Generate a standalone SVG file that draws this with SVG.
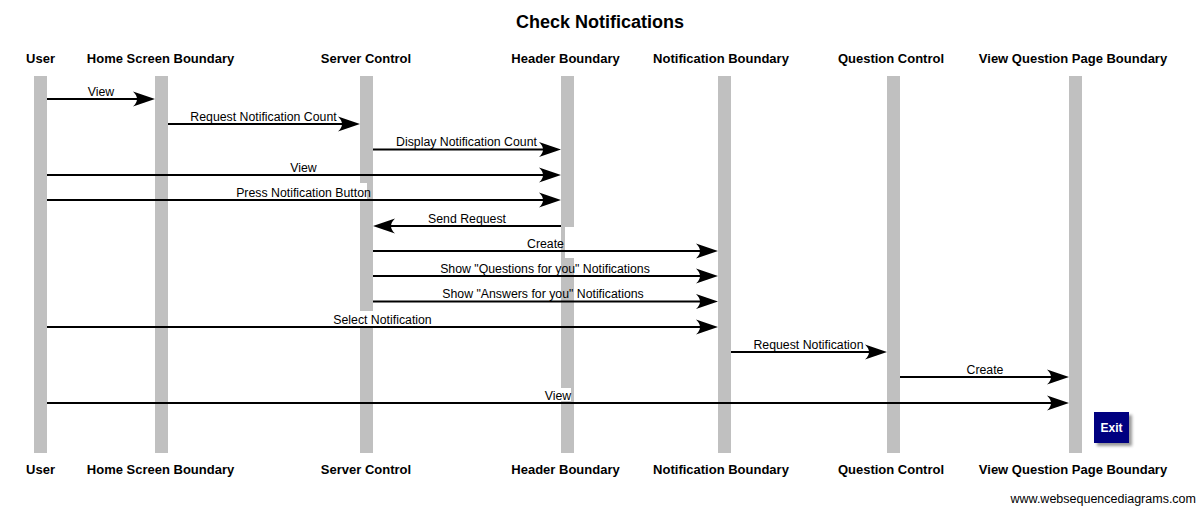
<svg xmlns="http://www.w3.org/2000/svg" width="1198" height="507" viewBox="0 0 1198 507">
<style>
.bg{fill:#ffffff}
.title{font-family:"Liberation Sans",Arial,sans-serif;font-size:18px;font-weight:bold;fill:#000;text-anchor:middle}
.pname{font-family:"Liberation Sans",Arial,sans-serif;font-size:13px;font-weight:bold;fill:#000;text-anchor:middle}
.life{fill:#c0c0c0}
.gap{fill:#ffffff}
.msg{stroke:#000;stroke-width:2;fill:none;marker-end:url(#ah)}
.lbl{font-family:"Liberation Sans",Arial,sans-serif;font-size:12.3px;fill:#000;text-anchor:middle}
.foot{font-family:"Liberation Sans",Arial,sans-serif;font-size:12.5px;fill:#000;text-anchor:end}
.exit{fill:#000080}
.exittxt{font-family:"Liberation Sans",Arial,sans-serif;font-size:12px;font-weight:bold;fill:#fff;text-anchor:middle}
</style>
<defs>
<marker id="ah" viewBox="-22 -8 22 16" markerWidth="22" markerHeight="16" refX="-8" refY="0" orient="auto" markerUnits="userSpaceOnUse">
<path d="M0,0 L-22,-7.5 Q-14,0 -22,7.5 Z" fill="#000"/>
</marker>
<filter id="sh" x="-30%" y="-30%" width="170%" height="170%">
<feGaussianBlur stdDeviation="1.5"/>
</filter>
</defs>
<rect class="bg" x="0" y="0" width="1198" height="507"/>
<text class="title" x="600" y="28">Check Notifications</text>

<g id="user">
<text class="pname" x="40.5" y="63">User</text>
<rect class="life" x="34" y="76" width="13" height="377"/>
<text class="pname" x="40.5" y="474">User</text>
</g>
<g id="home-screen-boundary">
<text class="pname" x="160.5" y="63">Home Screen Boundary</text>
<rect class="life" x="155" y="76" width="13" height="377"/>
<text class="pname" x="160.5" y="474">Home Screen Boundary</text>
</g>
<g id="server-control">
<text class="pname" x="366" y="63">Server Control</text>
<rect class="life" x="360" y="76" width="13" height="377"/>
<text class="pname" x="366" y="474">Server Control</text>
</g>
<g id="header-boundary">
<text class="pname" x="565.5" y="63">Header Boundary</text>
<rect class="life" x="561" y="76" width="13" height="377"/>
<text class="pname" x="565.5" y="474">Header Boundary</text>
</g>
<g id="notification-boundary">
<text class="pname" x="721" y="63">Notification Boundary</text>
<rect class="life" x="718" y="76" width="13" height="377"/>
<text class="pname" x="721" y="474">Notification Boundary</text>
</g>
<g id="question-control">
<text class="pname" x="891" y="63">Question Control</text>
<rect class="life" x="887" y="76" width="13" height="377"/>
<text class="pname" x="891" y="474">Question Control</text>
</g>
<g id="view-question-page-boundary">
<text class="pname" x="1073" y="63">View Question Page Boundary</text>
<rect class="life" x="1069" y="76" width="13" height="377"/>
<text class="pname" x="1073" y="474">View Question Page Boundary</text>
</g>

<g id="gaps">
<rect class="gap" x="360" y="183" width="7" height="16"/>
<rect class="gap" x="565" y="227" width="9" height="31"/>
<rect class="gap" x="360" y="311" width="13" height="15"/>
<rect class="gap" x="561" y="388" width="10" height="13"/>
</g>

<g id="connectors">
<line class="msg" x1="47" y1="99" x2="147" y2="99"/>
<text class="lbl" x="101" y="95.5">View</text>
<line class="msg" x1="168" y1="124" x2="352" y2="124"/>
<text class="lbl" x="263.5" y="120.5">Request Notification Count</text>
<line class="msg" x1="373" y1="149.5" x2="553" y2="149.5"/>
<text class="lbl" x="466.5" y="146">Display Notification Count</text>
<line class="msg" x1="47" y1="175" x2="553" y2="175"/>
<text class="lbl" x="303.5" y="171.5">View</text>
<line class="msg" x1="47" y1="200" x2="553" y2="200"/>
<text class="lbl" x="303.5" y="196.5">Press Notification Button</text>
<line class="msg" x1="561" y1="226" x2="381" y2="226"/>
<text class="lbl" x="467" y="222.5">Send Request</text>
<line class="msg" x1="373" y1="251" x2="710" y2="251"/>
<text class="lbl" x="545.5" y="247.5">Create</text>
<line class="msg" x1="373" y1="276" x2="710" y2="276"/>
<text class="lbl" x="545" y="272.5">Show "Questions for you" Notifications</text>
<line class="msg" x1="373" y1="301.5" x2="710" y2="301.5"/>
<text class="lbl" x="543" y="298">Show "Answers for you" Notifications</text>
<line class="msg" x1="47" y1="327" x2="710" y2="327"/>
<text class="lbl" x="382.5" y="323.5">Select Notification</text>
<line class="msg" x1="731" y1="352" x2="879" y2="352"/>
<text class="lbl" x="808.5" y="348.5">Request Notification</text>
<line class="msg" x1="900" y1="377" x2="1061" y2="377"/>
<text class="lbl" x="985" y="373.5">Create</text>
<line class="msg" x1="47" y1="403" x2="1061" y2="403"/>
<text class="lbl" x="558" y="399.5">View</text>
</g>

<g id="exit">
<rect x="1097" y="415" width="35" height="31" fill="#555" opacity="0.6" filter="url(#sh)"/>
<rect class="exit" x="1094" y="412" width="35" height="31"/>
<text class="exittxt" x="1111.5" y="432">Exit</text>
</g>

<text class="foot" x="1196" y="503">www.websequencediagrams.com</text>
</svg>
